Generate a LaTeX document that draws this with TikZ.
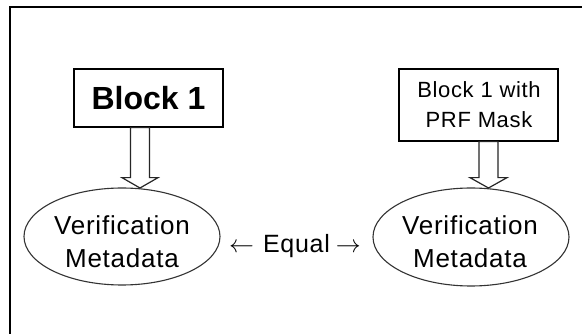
\documentclass[tikz,border=0pt]{standalone}
\usepackage{fontspec}
\setmainfont{Liberation Sans}
\newfontfamily\widesans[LetterSpace=3]{Liberation Sans}
\usetikzlibrary{shapes.geometric,calc}
\tikzset{
  frameline/.style={line width=2.4pt,black},
  boxnode/.style={draw=black,line width=1.3pt,rectangle,inner sep=0pt},
  ovalnode/.style={draw=black!80,line width=1.1pt,ellipse,inner sep=0pt},
  txt/.style={inner sep=0pt,align=center,text=black},
  blockarrow/.style={draw=black!85,line width=1.2pt,fill=white,line join=miter},
}
\begin{document}
\begin{tikzpicture}[x=1pt,y=-1pt]
\useasboundingbox (0,0) rectangle (582,334);
\fill[white] (0,0) rectangle (582,334);
% frame (open at right and bottom)
\draw[frameline] (10,340) -- (10,7) -- (590,7);
% boxes
\node[boxnode,minimum width=149pt,minimum height=58pt,font=\fontsize{32}{36}\selectfont\bfseries] (b1) at (148.5,98)
  {Block 1};
\node[boxnode,minimum width=159pt,minimum height=72pt] (b2) at (478.5,105)
  {};
\node[txt,font=\widesans\fontsize{22}{30}\selectfont] (b2t) at (479,105) {Block 1 with\\PRF Mask};
% ellipses
\node[ovalnode,minimum width=196pt,minimum height=97pt] (e1) at (122,236.5) {};
\node[ovalnode,minimum width=196pt,minimum height=98pt] (e2) at (471,237) {};
\node[txt,font=\widesans\fontsize{26}{33}\selectfont] (e1t) at (122,242) {Verification\\Metadata};
\node[txt,font=\widesans\fontsize{26}{33}\selectfont] (e2t) at (470,242) {Verification\\Metadata};
% equal label
\node[txt,anchor=base,font=\widesans\fontsize{25}{30}\selectfont] (eq) at (295,253) {$\leftarrow$\hspace{9pt}Equal\hspace{6pt}$\rightarrow$};
% block arrows
\coordinate (a1) at ($(b1.south)+(-8.5,0)$);
\coordinate (a1t) at (140,188);
\draw[blockarrow] ($(a1)+(-9.5,0)$) -- ($(a1)+(9.5,0)$) -- ($(a1)+(9.5,50)$) -- ($(a1)+(18,50)$)
  -- (a1t) -- ($(a1)+(-18,50)$) -- ($(a1)+(-9.5,50)$) -- cycle;
\coordinate (a2) at ($(b2.south)+(10,0)$);
\coordinate (a2t) at (488.5,188);
\draw[blockarrow] ($(a2)+(-9.5,0)$) -- ($(a2)+(9.5,0)$) -- ($(a2)+(9.5,36)$) -- ($(a2)+(18.5,36)$)
  -- (a2t) -- ($(a2)+(-18.5,36)$) -- ($(a2)+(-9.5,36)$) -- cycle;
\end{tikzpicture}
\end{document}
